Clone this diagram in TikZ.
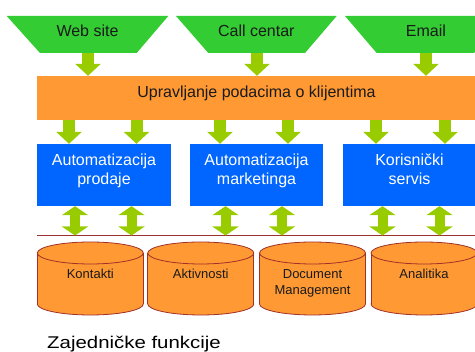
\documentclass[tikz,border=0pt]{standalone}
\usepackage{fontspec}
\setmainfont{Liberation Sans}
\usetikzlibrary{arrows.meta}

\definecolor{srcgreen}{HTML}{33CC33}
\definecolor{flowgreen}{HTML}{99CC00}
\definecolor{crmorange}{HTML}{FF9933}
\definecolor{modblue}{HTML}{0066FF}
\definecolor{railred}{HTML}{993333}
\definecolor{drumedge}{HTML}{A0302A}
\definecolor{inktext}{HTML}{1A1A1A}

% one storage drum: centre x, node name, baseline of last label line, label
\newcommand\drum[4]{%
  \path[drumbody] (#1,304) ellipse[x radius=53,y radius=11];
  \fill[crmorange] (#1-53,253) rectangle (#1+53,304);
  \draw[drumline] (#1-53,253) -- (#1-53,304) (#1+53,253) -- (#1+53,304);
  \path[drumbody] (#1,253) ellipse[x radius=53,y radius=11];
  \node[drumtext] (#2) at (#1,#3) {#4};
}

\begin{document}
\begin{tikzpicture}[x=1pt,y=-1pt,
  srcshape/.style={fill=srcgreen},
  srctext/.style={anchor=base,text=inktext,font=\fontsize{16}{18}\selectfont},
  hub/.style={fill=crmorange,minimum width=439pt,minimum height=44pt,inner sep=0pt},
  hubtext/.style={anchor=base,text=inktext,font=\fontsize{16}{18}\selectfont},
  modbox/.style={fill=modblue,minimum height=62pt,inner sep=0pt},
  modtext/.style={anchor=base,text=white,align=center,font=\fontsize{16}{18.5}\selectfont},
  drumbody/.style={fill=crmorange,draw=drumedge,line width=0.8pt},
  drumline/.style={draw=drumedge,line width=0.8pt},
  drumtext/.style={anchor=base,text=inktext,align=center,font=\fontsize{13}{16}\selectfont},
  railline/.style={draw=railred,line width=1pt},
  down/.style={draw=flowgreen,line width=12pt,-{Triangle[width=25pt,length=12pt]}},
  both/.style={draw=flowgreen,line width=10pt,{Triangle[width=26pt,length=9pt]}-{Triangle[width=26pt,length=9pt]}},
  caption/.style={anchor=base west,inner sep=0pt,text=black,font=\fontsize{17}{20}\selectfont,xscale=1.2}
]
\useasboundingbox (0,0) rectangle (475,352);
\clip (0,0) rectangle (475,352);

% channel trapezoids
\path[srcshape] (6.7,16) -- (168.3,16) -- (136.7,53) -- (40,53) -- cycle;
\path[srcshape] (176,16) -- (336.7,16) -- (305,53) -- (208.3,53) -- cycle;
\path[srcshape] (345,16) -- (506,16) -- (474,53) -- (376.7,53) -- cycle;
\node[srctext] (web) at (87.5,36.7) {Web site};
\node[srctext] (call) at (256.3,36.7) {Call centar};
\node[srctext] (mail) at (426,36.7) {Email};
\coordinate (web-b) at (88,53);
\coordinate (call-b) at (257,53);
\coordinate (mail-b) at (426,53);

% customer data management bar
\node[hub] (hub) at (256.5,98) {};
\node[hubtext] (hub-t) at (256.5,98) {Upravljanje podacima o klijentima};

% application modules
\node[modbox,minimum width=133.4pt] (sales) at (104,175) {};
\node[modbox,minimum width=133pt] (mkt) at (256.5,175) {};
\node[modbox,minimum width=133pt] (svc) at (409.5,175) {};
\node[modtext] (sales-t) at (104,184.2) {Automatizacija\\prodaje};
\node[modtext] (mkt-t) at (256.5,184.2) {Automatizacija\\marketinga};
\node[modtext] (svc-t) at (409.5,184.2) {Korisnički\\servis};

% shared rail
\coordinate (rail-l) at (37,235.5);
\coordinate (rail-r) at (475,235.5);
\draw[railline] (rail-l) -- (rail-r);

% arrow columns
\foreach \n/\x in {d1/69,d2/136.5,d3/220,d4/288,d5/376,d6/445,
                   u1/75,u2/131.5,u3/225.5,u4/282,u5/382.5,u6/439.5}
  \coordinate (\n) at (\x,0);

\draw[down] (web-b) -- (web-b |- hub.north);
\draw[down] (call-b) -- (call-b |- hub.north);
\draw[down] (mail-b) -- (mail-b |- hub.north);

\draw[down] (d1 |- hub.south) -- (d1 |- sales.north);
\draw[down] (d2 |- hub.south) -- (d2 |- sales.north);
\draw[down] (d3 |- hub.south) -- (d3 |- mkt.north);
\draw[down] (d4 |- hub.south) -- (d4 |- mkt.north);
\draw[down] (d5 |- hub.south) -- (d5 |- svc.north);
\draw[down] (d6 |- hub.south) -- (d6 |- svc.north);

\draw[both] (u1 |- sales.south) -- (u1 |- rail-l);
\draw[both] (u2 |- sales.south) -- (u2 |- rail-l);
\draw[both] (u3 |- mkt.south) -- (u3 |- rail-l);
\draw[both] (u4 |- mkt.south) -- (u4 |- rail-l);
\draw[both] (u5 |- svc.south) -- (u5 |- rail-l);
\draw[both] (u6 |- svc.south) -- (u6 |- rail-l);

% data stores
\drum{90.3}{contacts}{279}{Kontakti}
\drum{200.8}{activities}{279}{Aktivnosti}
\drum{312.5}{docs}{295}{Document\\Management}
\drum{424}{analytics}{279}{Analitika}

\node[caption] (shared) at (47,349) {Zajedničke funkcije};
\end{tikzpicture}
\end{document}
